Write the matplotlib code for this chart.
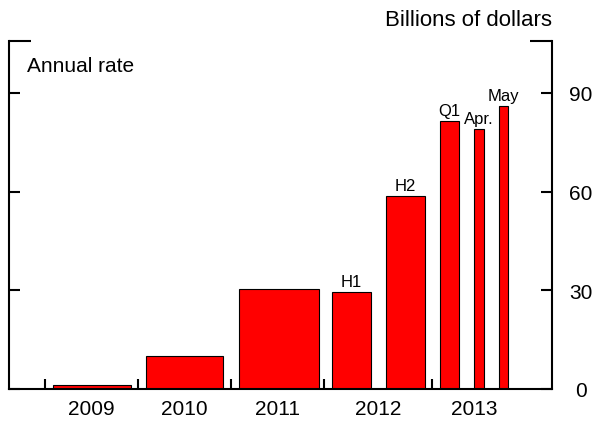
import matplotlib
matplotlib.use("Agg")
import matplotlib.pyplot as plt
import numpy as np

plt.rcParams['font.family'] = ['Liberation Sans', 'DejaVu Sans']

# Data
periods = ["2009", "2010", "2011", "H1", "H2", "Q1", "Apr.", "May"]
values = [1.2, 9.9, 30.3, 29.5, 58.8, 81.4, 79.0, 86.1]
bar_labels = ["", "", "", "H1", "H2", "Q1", "Apr.", "May"]
years = ["2009", "2010", "2011", "2012", "2013"]

# Positions (in year units)
bar_left = [0.09, 1.09, 2.085, 3.089, 3.667, 4.247, 4.616, 4.878]
bar_right = [0.92, 1.917, 2.946, 3.505, 4.086, 4.452, 4.717, 4.981]
year_bounds = [0.0, 1.0, 2.0, 3.0, 4.165, 5.06]

fig = plt.figure(figsize=(6.13, 4.27), dpi=100)
ax = fig.add_axes([9/613, 37/427, (552-9)/613, (390-42)/427])

lefts = np.array(bar_left)
widths = np.array(bar_right) - lefts
ax.bar(lefts, values, width=widths, align='edge', color='#ff0000',
       edgecolor='black', linewidth=0.8, zorder=2)

for l, w, v, t in zip(lefts, widths, values, bar_labels):
    if t:
        ax.annotate(t, (l + w/2, v), xytext=(0, 2), textcoords='offset points',
                    ha='center', va='bottom', fontsize=12)

ax.set_xlim(-0.387, 5.452)
ax.set_ylim(0, 105.8)

# x axis
mids = [(a + b) / 2 for a, b in zip(year_bounds[:-1], year_bounds[1:])]
ax.set_xticks(mids)
ax.set_xticklabels(years, fontsize=15)
ax.set_xticks(year_bounds[:-1], minor=True)
ax.tick_params(axis='x', which='major', length=0, pad=7)
ax.tick_params(axis='x', which='minor', direction='in', length=7.5, width=1.5)

# y axis
ax.set_yticks([0, 30, 60, 90])
ax.set_yticks([105.8], minor=True)
ax.tick_params(axis='y', which='major', direction='in', length=8, width=1.5,
               left=True, right=True, labelleft=False, labelright=True,
               labelsize=15, pad=21)
ax.tick_params(axis='y', which='minor', direction='in', length=16, width=1.5,
               left=True, right=True, labelleft=False, labelright=False)
for lab in ax.get_yticklabels():
    lab.set_horizontalalignment('center')

for s in ['left', 'right', 'bottom']:
    ax.spines[s].set_linewidth(1.5)
ax.spines['top'].set_visible(False)

fig.text(27/613, 1 - 67/427, "Annual rate", fontsize=15,
         ha='left', va='center')
fig.text(552/613, 1 - 20/427, "Billions of dollars", fontsize=16,
         ha='right', va='center')

fig.savefig("out.png", dpi=100)
